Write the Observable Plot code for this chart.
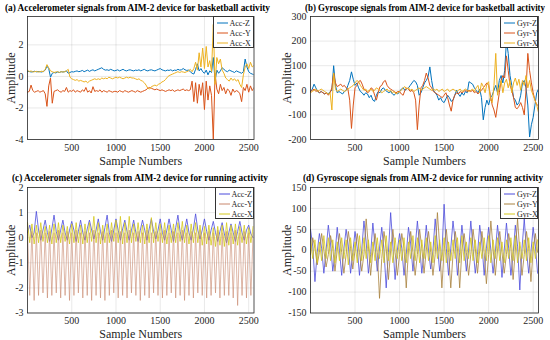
<!DOCTYPE html>
<html><head><meta charset="utf-8">
<script src="https://cdn.jsdelivr.net/npm/d3@7"></script>
<script src="https://cdn.jsdelivr.net/npm/@observablehq/plot@0.6"></script>
<style>
body{margin:0;background:#fff;}
#wrap{position:relative;width:550px;height:340px;overflow:hidden;font-family:"Liberation Serif","Tinos","DejaVu Serif",serif;}
.panel{position:absolute;}
.title{position:absolute;font-weight:bold;font-size:10px;white-space:nowrap;transform-origin:0 50%;line-height:1;color:#000;}
.legend{position:absolute;background:#fff;border:0.8px solid #333;box-sizing:border-box;font-size:8px;color:#222;padding:1px 0 0 3px;white-space:nowrap;overflow:hidden;}
.legend .row{display:flex;align-items:center;height:10px;white-space:nowrap;}
.legend svg{margin-right:2px;flex:none;}
svg [aria-label$="axis label"]{font-size:12px;}
</style></head>
<body><div id="wrap"></div>
<script>
// ---------- data ----------
const xTicks = [500, 1000, 1500, 2000, 2500];
const stepBB = 20;   // sample spacing of the basketball readings
const stepRun = 25;  // sample spacing of the running readings

// (a) accelerometer, basketball
const accZ_bb = [0.30,0.32,0.28,0.30,0.33,0.29,0.31,0.30,0.28,0.32,
 0.40,0.65,0.50,-0.05,0.20,0.25,0.22,0.28,0.25,0.30,
 0.28,0.30,0.35,0.20,0.25,0.30,0.28,0.32,0.35,0.30,
 0.33,0.38,0.30,0.35,0.40,0.32,0.38,0.42,0.35,0.40,
 0.45,0.50,0.55,0.45,0.40,0.42,0.38,0.45,0.40,0.35,
 0.38,0.42,0.35,0.40,0.45,0.38,0.35,0.40,0.42,0.38,
 0.35,0.40,0.38,0.42,0.35,0.40,0.45,0.38,0.35,0.40,
 0.42,0.38,0.35,0.40,0.45,0.50,0.42,0.38,0.35,0.40,
 0.38,0.42,0.35,0.40,0.38,0.45,0.40,0.42,0.50,0.42,
 0.38,0.40,0.30,0.20,0.15,0.45,0.80,0.35,0.50,0.30,
 0.20,0.40,0.10,0.35,0.25,1.20,-0.30,0.40,0.20,0.35,
 0.55,0.45,0.35,0.30,0.40,0.35,0.30,0.25,0.35,0.30,
 0.25,0.20,0.30,1.10,0.60,0.30,0.20,0.15,0.10];
const accY_bb = [-1.00,-0.95,-0.55,-0.90,-1.00,-0.95,-0.90,-1.00,-0.95,-0.90,
 -1.10,-1.90,-0.60,-0.10,-1.70,-0.95,-0.90,-0.85,-0.95,-1.00,
 -0.90,-0.95,-0.70,-1.00,-0.90,-0.95,-0.85,-1.00,-0.90,-0.95,
 -1.00,-0.85,-0.95,-0.70,-1.00,-0.90,-1.05,-0.65,-0.95,-0.90,
 -0.95,-0.85,-1.00,-0.90,-0.95,-1.00,-0.90,-0.95,-1.00,-0.95,
 -0.95,-1.00,-0.90,-0.95,-1.00,-0.90,-0.95,-1.00,-0.95,-0.90,
 -0.95,-1.00,-0.90,-0.95,-1.00,-0.95,-0.90,-0.85,-0.75,-0.70,
 -0.75,-0.80,-0.85,-0.80,-0.85,-0.90,-0.85,-0.90,-0.95,-0.90,
 -0.85,-0.90,-0.85,-0.95,-0.90,-0.85,-0.90,-0.85,-0.80,-0.90,
 -0.85,-0.90,-0.85,-0.30,-1.60,-0.40,-1.70,-0.50,-1.20,-0.40,
 -2.10,-0.30,-1.50,-0.60,-1.20,-4.00,0.20,-0.80,-1.10,-0.50,
 -0.90,-0.70,-1.10,-0.80,-0.90,-1.20,-0.80,-1.00,-0.90,-0.95,
 -1.10,-1.60,-0.70,-0.90,-0.50,-1.00,-0.60,-0.90,-0.70];
const accX_bb = [0.40,0.30,0.35,0.28,0.30,0.32,0.28,0.30,0.33,0.30,
 0.45,0.75,0.55,0.35,0.30,0.25,0.28,0.30,0.25,0.30,
 0.28,0.30,0.35,0.45,-0.05,-0.15,-0.20,-0.25,-0.20,-0.30,
 -0.25,-0.30,-0.35,-0.30,-0.40,-0.30,-0.25,-0.20,-0.15,-0.20,
 -0.15,-0.20,-0.10,-0.15,-0.10,-0.15,-0.05,-0.10,-0.15,-0.10,
 -0.05,-0.10,-0.05,-0.10,-0.15,-0.10,-0.05,-0.10,-0.05,-0.10,
 -0.10,-0.15,-0.20,-0.15,-0.25,-0.30,-0.40,-0.55,-0.75,-0.80,
 -0.65,-0.60,-0.55,-0.60,-0.50,-0.45,-0.35,-0.30,-0.20,-0.05,
 0.05,0.10,0.15,0.20,0.25,0.30,0.25,0.30,0.28,0.25,
 0.30,0.35,0.45,0.30,0.50,0.90,0.40,1.50,0.60,1.80,
 0.50,1.90,0.60,1.00,0.30,3.30,-0.50,1.20,0.80,1.10,
 0.40,0.20,-0.10,-0.20,-0.30,-0.10,-0.25,-0.15,-0.30,-0.20,
 -0.50,-0.70,0.10,0.60,0.80,0.50,0.90,0.60,0.70];

// (b) gyroscope, basketball
const gyrZ_bb = [-5,5,25,10,-5,-10,-5,-10,-15,-10,
 -15,-5,0,100,20,-10,-5,-10,-15,-5,
 0,20,40,75,45,20,30,10,-5,-10,
 -20,-10,-15,-30,-20,-40,-45,-20,-5,-10,
 5,10,0,-5,-10,-5,-15,-20,-10,-15,
 -5,5,10,0,5,10,20,30,40,35,
 20,-20,-10,10,30,40,55,95,40,0,
 -10,-20,-40,-30,-45,-50,-35,-20,-30,-45,
 -40,-20,0,-15,-25,-10,-20,-5,-10,35,
 30,25,10,0,-10,5,-30,-120,-70,-40,
 -60,-30,-20,0,20,-10,40,60,30,80,
 200,150,60,20,-30,-40,-60,-50,-20,30,
 40,10,-60,-190,-140,-110,-60,-10,5];
const gyrY_bb = [-5,0,5,-5,0,-10,-5,-10,-15,-10,
 -20,-10,10,70,30,15,20,25,15,20,
 10,5,-40,-155,-60,10,20,35,40,25,
 5,0,-10,-5,10,5,-20,-40,-10,15,
 20,35,40,20,10,5,0,-5,-10,-5,
 -5,-15,-20,0,10,5,-5,0,-10,-40,
 -160,-60,10,20,40,70,50,20,10,-5,
 -10,-15,-20,-25,-30,-20,-10,-30,-60,-85,
 -40,-20,-10,-15,-5,-10,-5,0,-5,0,
 -5,0,-10,-5,-15,-5,0,10,20,30,
 20,-20,-60,-80,-110,-60,-10,40,60,50,
 140,80,20,0,-30,-70,-75,-65,-50,-70,
 -100,0,150,80,30,-10,-40,-60,-60];
const gyrX_bb = [-10,-5,0,5,-5,0,5,0,-5,-10,
 -15,-10,-80,70,5,-5,0,5,0,-5,
 0,5,10,15,20,30,40,35,20,10,
 0,5,-5,0,5,-5,0,10,5,0,
 -10,-5,0,5,-5,0,-10,-5,-15,-10,
 -5,0,10,15,5,10,0,5,-5,0,
 5,10,0,5,10,15,10,5,0,5,
 0,5,-5,0,5,-5,0,5,-5,0,
 5,0,-5,0,5,-5,0,5,0,-5,
 0,5,-5,10,20,-10,30,15,-10,25,
 35,-40,-50,20,150,-20,10,40,-10,30,
 45,10,40,-10,30,50,20,45,0,40,
 20,60,10,40,0,-20,-40,-60,-90];

// (c) accelerometer, running
const accZ_run = [0.2,0.5,0.0,0.2,
 1.05,0.3,-0.1,0.3, 0.7,0.2,-0.15,0.35, 0.9,0.25,-0.1,0.3, 0.7,0.2,-0.1,0.3,
 0.65,0.3,-0.15,0.25, 0.7,0.2,-0.1,0.35, 0.7,0.3,-0.05,0.3, 0.75,0.25,-0.1,0.4,
 0.9,0.2,-0.15,0.3, 0.75,0.3,-0.1,0.35, 0.7,0.25,-0.1,0.3, 0.7,0.2,-0.15,0.3,
 0.7,0.3,-0.1,0.35, 0.75,0.25,-0.05,0.3, 0.75,0.2,-0.1,0.3, 0.75,0.3,-0.15,0.4,
 0.9,0.25,-0.1,0.3, 0.75,0.2,-0.1,0.35, 0.95,0.3,-0.05,0.3, 0.75,0.25,-0.1,0.3,
 0.65,0.2,-0.15,0.25, 0.6,0.15,-0.2,0.2, 0.55,0.2,-0.15,0.25, 0.65,0.2,-0.1,0.3,
 0.5,0.15,0.0];
const accY_run = [0.2,-2.3,0.25,-2.5,0.2,-2.3,0.3,-2.2,0.2,-2.4,
 0.25,-2.3,0.2,-2.2,0.3,-2.4,0.2,-2.3,0.25,-2.5,
 0.2,-2.3,0.3,-2.2,0.2,-2.4,0.25,-2.3,0.2,-2.5,
 0.3,-2.3,0.2,-2.4,0.25,-2.5,0.2,-2.3,0.3,-2.2,
 0.2,-2.4,0.25,-2.3,0.2,-2.4,0.3,-2.2,0.2,-2.3,
 0.25,-2.5,0.2,-2.3,0.3,-2.4,0.2,-2.2,0.25,-2.3,
 0.2,-2.4,0.3,-2.3,0.2,-2.2,0.25,-2.4,0.2,-2.3,
 0.3,-2.5,0.2,-2.3,0.25,-2.4,0.2,-2.2,0.3,-2.3,
 0.2,-2.4,0.25,-2.3,0.2,-2.2,0.3,-2.4,0.2,-2.3,
 0.25,-2.3,0.2,-2.4,0.3,-2.7,0.2,-2.3,0.25,-2.4,
 0.2,-2.3,0.2];
const accX_run = [0.6,-0.2,0.55,-0.25,0.5,-0.2,0.6,-0.15,0.45,-0.2,
 0.5,-0.25,0.55,-0.2,0.6,-0.2,0.5,-0.15,0.45,-0.25,
 0.55,-0.2,0.6,-0.2,0.5,-0.25,0.55,-0.2,0.6,-0.15,
 0.85,-0.2,0.6,-0.25,0.5,-0.2,0.55,-0.2,0.6,-0.15,
 0.7,-0.2,0.85,-0.25,0.6,-0.2,0.85,-0.2,0.55,-0.15,
 0.6,-0.2,0.5,-0.25,0.55,-0.2,0.8,-0.2,0.6,-0.15,
 0.55,-0.2,0.6,-0.25,0.5,-0.2,0.55,-0.2,0.6,-0.15,
 0.65,-0.2,0.5,-0.25,0.55,-0.2,0.6,-0.2,0.5,-0.3,
 0.45,-0.25,0.5,-0.3,0.4,-0.35,0.45,-0.3,0.5,-0.35,
 0.6,-0.3,0.5,-0.25,0.55,-0.3,0.45,-0.2,0.5,-0.25,
 0.4,-0.2,0.45];

// (d) gyroscope, running
const gyrZ_run = [50,10,-75,-5, 40,5,-55,0, 60,15,-50,-10, 55,0,-60,5,
 50,10,-55,-5, 45,5,-60,0, 70,20,-55,-10, 65,10,-50,5,
 55,0,-90,-5, 90,10,-70,0, 40,5,-60,-10, 55,15,-50,5,
 70,10,-55,-5, 60,0,-45,0, 75,10,-50,-10, 110,5,-60,5,
 70,20,-60,-5, 60,10,-50,0, 70,5,-55,-10, 60,15,-60,5,
 55,0,-55,-5, 60,10,-65,0, 65,5,-60,-10, 60,10,-95,5,
 75,0,-55,-5, 55,10,-55];
const gyrY_run = [-10,30,5,-35, -5,40,0,-40, -10,35,5,-50, 0,40,-5,-55,
 -10,45,5,-45, 0,40,-5,-50, -10,75,10,-60, 0,40,-5,-115,
 -20,45,5,-70, 0,50,-5,-60, -10,40,5,-90, 0,45,-5,-60,
 -10,50,5,-55, 0,45,-5,-60, -10,90,10,-90, 0,50,-5,-90,
 -10,45,5,-90, 0,40,-5,-60, -10,50,5,-55, 0,45,-5,-80,
 -10,70,5,-60, 0,45,-5,-55, -10,40,5,-70, 0,75,-5,-60,
 -10,45,5,-75, 0,40,-5];
const gyrX_run = [30,-20,25,-30,20,-25,35,-20,30,-25,
 25,-30,20,-25,30,-20,25,-35,30,-25,
 20,-30,35,-25,30,-20,25,-30,20,-25,
 30,-20,25,-30,35,-25,20,-30,30,-20,
 25,-25,30,-30,20,-20,35,-25,30,-30,
 25,-20,30,-25,20,-30,35,-20,25,-25,
 30,-30,20,-25,25,-20,30,-30,35,-25,
 20,-20,30,-25,25,-30,20,-20,30,-25,
 35,-30,25,-20,30,-25,20,-30,25,-20,
 30,-25,35,-30,20,-20,25,-25,30,-30,
 20,-20,25];

const C1 = {Z: "#0072BD", Y: "#D95319", X: "#EDB120"};
const C2 = {Z: "#4b4bdc", Y: "#c8866c", X: "#d4c81c"};
const FONT = "'Liberation Serif','Tinos','DejaVu Serif',serif";

// ---------- drawing ----------
const wrap = document.getElementById("wrap");

function panel(o) {
  const marks = o.series.map(s => Plot.line(s.values, {
    x: (d, i) => i * o.step, y: d => d, stroke: s.color, strokeWidth: s.sw || o.sw, clip: true
  }));
  marks.push(Plot.frame({stroke: "#262626", strokeWidth: 0.8}));
  const chart = Plot.plot({
    width: 275, height: 170,
    marginLeft: o.ml, marginRight: o.mr, marginTop: o.mt, marginBottom: o.mb,
    style: {fontFamily: FONT, fontSize: "10px", color: "#262626", background: "transparent", overflow: "visible"},
    x: {domain: [0, 2560], ticks: xTicks, tickFormat: d => String(d), grid: true,
        label: "Sample Numbers", labelAnchor: "center", labelArrow: "none", labelOffset: o.xl,
        tickSize: 0, tickPadding: 4},
    y: {domain: o.yDomain, ticks: o.yTicks, tickFormat: d => String(d), grid: true,
        label: "Amplitude", labelAnchor: "center", labelArrow: "none", labelOffset: o.yl,
        tickSize: 0, tickPadding: 4},
    marks
  });
  const box = document.createElement("div");
  box.className = "panel";
  box.style.left = o.left + "px";
  box.style.top = o.top + "px";
  box.appendChild(chart);
  wrap.appendChild(box);

  // title
  const t = document.createElement("div");
  t.className = "title";
  t.textContent = o.title;
  t.style.left = o.tx0 + "px";
  t.style.top = o.ty + "px";
  wrap.appendChild(t);
  const w = t.getBoundingClientRect().width;
  t.style.transform = `scaleX(${(o.tx1 - o.tx0) / w})`;

  // legend
  const lg = document.createElement("div");
  lg.className = "legend";
  lg.style.left = o.lgx + "px";
  lg.style.top = o.lgy + "px";
  lg.style.width = o.lgw + "px";
  lg.style.height = "32px";
  for (const s of o.series) {
    const r = document.createElement("div");
    r.className = "row";
    r.innerHTML = `<svg width="11" height="4"><line x1="0" y1="2" x2="11" y2="2" stroke="${s.color}" stroke-width="1"/></svg><span>${s.name}</span>`;
    lg.appendChild(r);
  }
  wrap.appendChild(lg);
}

panel({left: 0, top: 0, ml: 27, mr: 21.5, mt: 16, mb: 31, xl: 25, yl: 21,
  yDomain: [-4, 3.8], yTicks: [-4, -2, 0, 2], step: stepBB, sw: 1,
  title: "(a) Accelerometer signals from AIM-2 device for basketball activity", tx0: 5, tx1: 270, ty: 3,
  lgx: 212.5, lgy: 16, lgw: 41,
  series: [{name: "Acc-Z", values: accZ_bb, color: C1.Z}, {name: "Acc-Y", values: accY_bb, color: C1.Y}, {name: "Acc-X", values: accX_bb, color: C1.X}]});

panel({left: 275, top: 0, ml: 35, mr: 12, mt: 16, mb: 31, xl: 25, yl: 28,
  yDomain: [-200, 300], yTicks: [-200, -100, 0, 100, 200, 300], step: stepBB, sw: 1,
  title: "(b) Gyroscope signals from AIM-2 device for basketball activity", tx0: 305, tx1: 545, ty: 3,
  lgx: 500, lgy: 16, lgw: 38,
  series: [{name: "Gyr-Z", values: gyrZ_bb, color: C1.Z}, {name: "Gyr-Y", values: gyrY_bb, color: C1.Y}, {name: "Gyr-X", values: gyrX_bb, color: C1.X}]});

panel({left: 0, top: 170, ml: 27, mr: 21.5, mt: 17, mb: 27.5, xl: 25, yl: 21,
  yDomain: [-3, 2], yTicks: [-3, -2, -1, 0, 1, 2], step: stepRun, sw: 0.8,
  title: "(c) Accelerometer signals from AIM-2 device for running activity", tx0: 12, tx1: 268, ty: 172.5,
  lgx: 214.5, lgy: 187, lgw: 39,
  series: [{name: "Acc-Z", values: accZ_run, color: C2.Z}, {name: "Acc-Y", values: accY_run, color: C2.Y, sw: 0.6}, {name: "Acc-X", values: accX_run, color: C2.X}]});

panel({left: 275, top: 170, ml: 35, mr: 12, mt: 17, mb: 27.5, xl: 25, yl: 28,
  yDomain: [-150, 150], yTicks: [-150, -100, -50, 0, 50, 100, 150], step: stepRun, sw: 0.8,
  title: "(d) Gyroscope signals from AIM-2 device for running activity", tx0: 303, tx1: 543, ty: 172.5,
  lgx: 500, lgy: 187, lgw: 38,
  series: [{name: "Gyr-Z", values: gyrZ_run, color: C2.Z}, {name: "Gyr-Y", values: gyrY_run, color: "#a8823e"}, {name: "Gyr-X", values: gyrX_run, color: C2.X}]});
</script></body></html>
